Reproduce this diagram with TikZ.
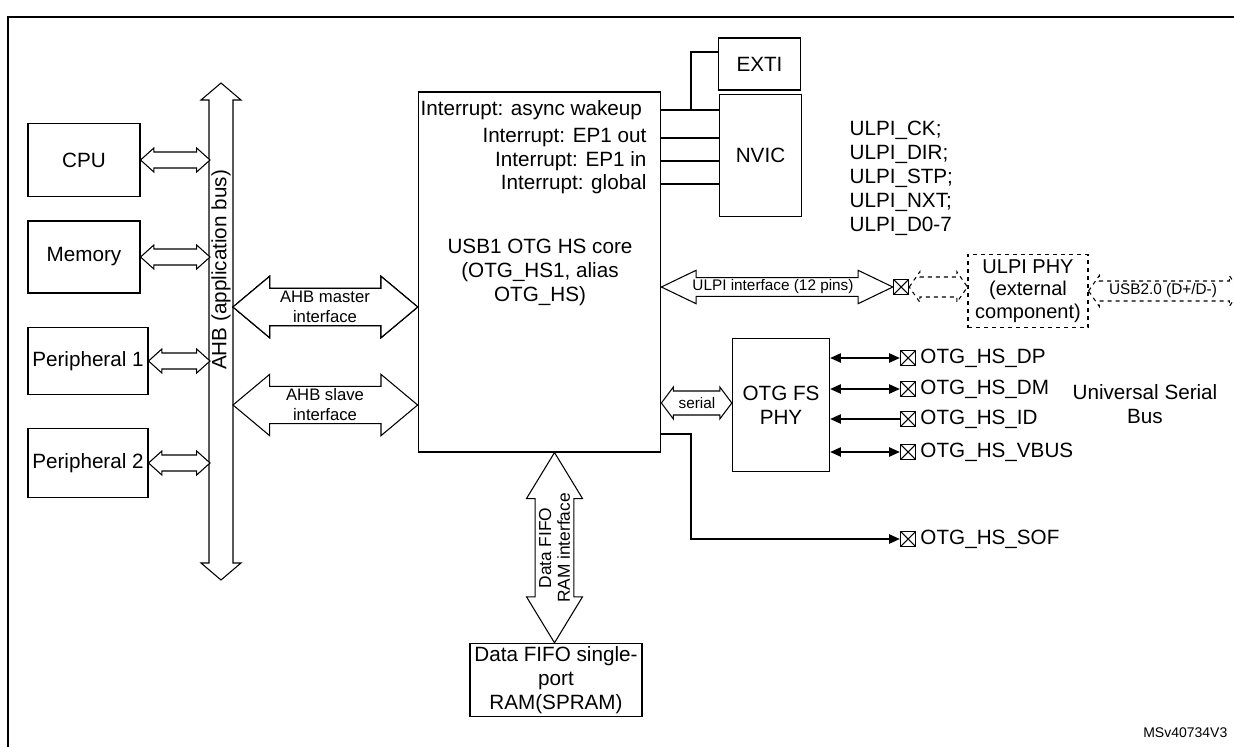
\documentclass[tikz,border=0pt]{standalone}
\usepackage{fontspec}
\setmainfont{Liberation Sans}
\usetikzlibrary{calc,arrows.meta,positioning}
\newcommand\hdbl[6][]{\draw[fill=white,#1] let \p1=#2, \p2=#3 in
  (\x1,\y1) -- (\x1+#6pt,\y1+#5pt) -- (\x1+#6pt,\y1+#4pt) -- (\x2-#6pt,\y1+#4pt)
  -- (\x2-#6pt,\y1+#5pt) -- (\x2,\y1) -- (\x2-#6pt,\y1-#5pt) -- (\x2-#6pt,\y1-#4pt)
  -- (\x1+#6pt,\y1-#4pt) -- (\x1+#6pt,\y1-#5pt) -- cycle;}
\newcommand\vdbl[6][]{\draw[fill=white,#1] let \p1=#2, \p2=#3 in
  (\x1,\y1) -- (\x1+#5pt,\y1-#6pt) -- (\x1+#4pt,\y1-#6pt) -- (\x1+#4pt,\y2+#6pt)
  -- (\x1+#5pt,\y2+#6pt) -- (\x1,\y2) -- (\x1-#5pt,\y2+#6pt) -- (\x1-#4pt,\y2+#6pt)
  -- (\x1-#4pt,\y1-#6pt) -- (\x1-#5pt,\y1-#6pt) -- cycle;}
\tikzset{
  blk/.style={draw, thick, fill=white, font=\fontsize{15.5}{18}\selectfont, align=center, inner sep=1pt},
  small/.style={font=\fontsize{11.5}{13}\selectfont, align=center, inner sep=1pt},
  txt/.style={font=\fontsize{15.5}{18}\selectfont, inner sep=1pt},
  pinbox/.style={draw, thick, minimum size=11.5pt, inner sep=0pt,
    path picture={\draw (path picture bounding box.south west) -- (path picture bounding box.north east)
      (path picture bounding box.north west) -- (path picture bounding box.south east);}},
  sig/.style={thick, >={Triangle[length=8pt,width=7pt]}}
}
\begin{document}
\begin{tikzpicture}[x=0.75pt,y=-0.75pt]
  \useasboundingbox (0,0) rectangle (1234,746);
  \draw[thick] (8,17) rectangle (1240,752);
  % blocks
  \node[blk, minimum width=84pt, minimum height=55pt] (cpu) at (84,160) {CPU};
  \node[blk, minimum width=84pt, minimum height=54pt] (mem) at (84,257) {Memory};
  \node[blk, minimum width=90pt, minimum height=50pt] (perA) at (88,361) {Peripheral 1};
  \node[blk, minimum width=90pt, minimum height=52pt] (perB) at (88,463) {Peripheral 2};
  \node[blk, minimum width=182pt, minimum height=270pt] (core) at (539.5,272) {};
  \node[txt, align=center] (corelbl) at (540,272) {USB1 OTG HS core\\(OTG\_HS1, alias\\OTG\_HS)};
  \node[blk, minimum width=61pt, minimum height=39pt] (exti) at (759.5,64) {EXTI};
  \node[blk, minimum width=62pt, minimum height=91pt] (nvic) at (760.5,155.5) {NVIC};
  \node[blk, minimum width=73pt, minimum height=100pt] (fsphy) at (781,405) {OTG FS\\PHY};
  \node[blk, dashed, minimum width=90pt, minimum height=55pt, font=\fontsize{15}{17}\selectfont] (ulpiphy) at (1028,291) {ULPI PHY\\(external\\component)};
  \node[blk, minimum width=129pt, minimum height=55pt] (ram) at (556,680) {Data FIFO single-\\port\\RAM(SPRAM)};
  % interrupts
  \node[txt, anchor=west] (irqA) at (419,110) {Interrupt: async wakeup};
  \node[txt, anchor=east] (irqB) at (648,138) {Interrupt: EP1 out};
  \node[txt, anchor=east] (irqC) at (648,161) {Interrupt: EP1 in};
  \node[txt, anchor=east] (irqD) at (648,184) {Interrupt: global};
  \coordinate (jn) at (691,110);
  \draw[thick] (core.east |- jn) -- (nvic.west |- jn);
  \draw[thick] (jn) |- (exti.west |- 0,52);
  \foreach \yy in {138,161,184}
    \draw[thick] (core.east |- 0,\yy) -- (nvic.west |- 0,\yy);
  % AHB bus
  \coordinate (bustop) at (221,83);
  \coordinate (busbot) at (221,580);
  \vdbl[thick]{(bustop)}{(busbot)}{9}{15}{12.75}
  \node[txt, rotate=90] (buslbl) at (221,270) {AHB (application bus)};
  \coordinate (busL) at (210,0);
  \coordinate (busR) at (233,0);
  \foreach \b in {cpu,mem,perA,perB}
    \hdbl[thick]{(\b.east)}{(\b.east -| busL)}{6}{9}{10}
  \hdbl[thick]{(busR |- 0,307)}{(core.west |- 0,307)}{14}{23}{27.5}
  \node[small, font=\fontsize{12.5}{15}\selectfont] (mst) at (325,307) {AHB master\\interface};
  \hdbl[thick]{(busR |- 0,405)}{(core.west |- 0,405)}{14}{23}{27.5}
  \node[small, font=\fontsize{12.5}{15}\selectfont] (slv) at (325,405) {AHB slave\\interface};
  % FIFO
  \vdbl[thick]{(core.south -| 554.5,0)}{(ram.north -| 554.5,0)}{14.5}{21}{34.5}
  \node[small, font=\fontsize{13}{14}\selectfont, rotate=90] (fifolbl) at (554.5,548) {Data FIFO\\RAM interface};
  % ULPI
  \node[txt, anchor=west, align=left] (ulpisig) at (848,178) {ULPI\_CK;\\ULPI\_DIR;\\ULPI\_STP;\\ULPI\_NXT;\\ULPI\_D0-7};
  \node[pinbox] (pu) at (901,287) {};
  \hdbl[thick]{(core.east |- pu)}{(pu.west)}{7}{12.5}{26}
  \node[small] (ulpilbl) at (773,287) {ULPI interface (12 pins)};
  \hdbl[thick, dashed]{(pu.east)}{(ulpiphy.west)}{7.5}{11.5}{8}
  \coordinate (usbend) at (1240,291);
  \hdbl[thick, dashed]{(ulpiphy.east)}{(usbend)}{7.5}{11.5}{8}
  \node[small] (usblbl) at (1163,291) {USB2.0 (D+/D-)};
  % serial
  \hdbl[thick]{(core.east |- 0,403)}{(fsphy.west |- 0,403)}{9}{12}{9}
  \node[small] (serlbl) at (697,403) {serial};
  % pins
  \foreach \n/\yy/\t in {dp/358/OTG\_HS\_DP, dm/389/OTG\_HS\_DM, id/419/OTG\_HS\_ID, vb/452/OTG\_HS\_VBUS, sof/539/OTG\_HS\_SOF}{
    \node[pinbox] (\n) at (908,\yy) {};
    \node[txt, right=2pt of \n] (\n lbl) {\t};
  }
  \draw[sig, <->] (fsphy.east |- dp) -- (dp.west);
  \draw[sig, <->] (fsphy.east |- dm) -- (dm.west);
  \draw[sig, <-] (fsphy.east |- id) -- (id.west);
  \draw[sig, <->] (fsphy.east |- vb) -- (vb.west);
  \draw[sig, ->] (core.east |- 0,434) -| (691,539) -- (sof.west);
  \node[txt, align=center] (usbtxt) at (1145,404) {Universal Serial\\Bus};
  \node[font=\fontsize{10.5}{12}\selectfont, anchor=south east] (ref) at (1232,742) {MSv40734V3};
\end{tikzpicture}
\end{document}
